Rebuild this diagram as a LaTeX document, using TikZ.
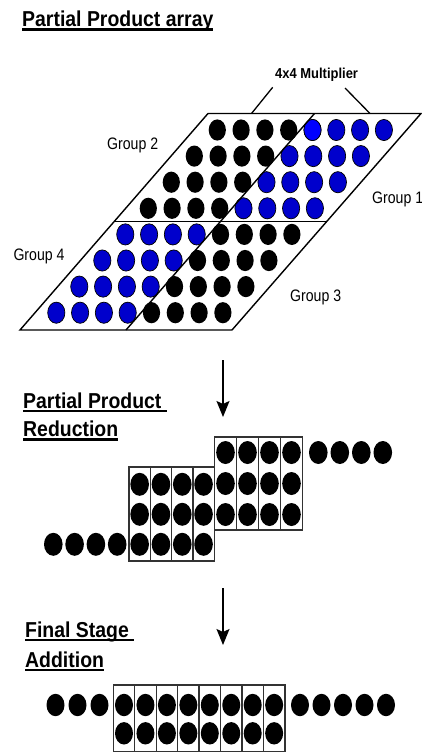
\documentclass[tikz,border=0pt]{standalone}
\usepackage{fontspec}
\setmainfont{Liberation Sans}[FakeStretch=0.9]
\newfontfamily\grpfont{Liberation Sans}[FakeStretch=0.85]
\usetikzlibrary{arrows.meta}

\definecolor{dotblue}{RGB}{0,0,204}
\definecolor{dotbright}{RGB}{0,0,255}
\definecolor{boxgray}{RGB}{51,51,51}

% heading text with a heavy underline that runs through the descenders
\newcommand\ulined[1]{\setbox0=\hbox{#1}\rlap{\rule[-3.8pt]{\wd0}{2.1pt}}\box0}

\begin{document}
\begin{tikzpicture}[x=1pt,y=-1pt,
  heading/.style={anchor=base west,inner sep=0pt,font=\fontsize{21.6}{26}\bfseries\selectfont},
  smallhead/.style={anchor=base west,inner sep=0pt,font=\fontsize{14.4}{17}\bfseries\selectfont},
  grouplabel/.style={anchor=base west,inner sep=0pt,font=\grpfont\fontsize{16.6}{20}\selectfont},
  frame/.style={draw=black,line width=1.4pt},
  bdot/.style={fill=black},
  udot/.style={fill=dotblue,draw=black,line width=0.7pt},
  cell/.style={draw=boxgray,line width=1.3pt},
  flow/.style={draw=black,line width=1.4pt,-{Stealth[length=16pt,width=13pt,inset=3pt]}},
  lead/.style={draw=black,line width=1.3pt},
]
\useasboundingbox (0,0) rectangle (422,753);

% ---------- headings ----------
\node[heading] (hArray) at (22,26.7) {\ulined{Partial Product array}};
\node[heading] (hRed1) at (23,408.3) {\ulined{Partial Product\ }};
\node[heading] (hRed2) at (23,436.7) {\ulined{Reduction}};
\node[heading] (hFin1) at (25,637.5) {\ulined{Final Stage\ }};
\node[heading] (hFin2) at (25,667.3) {\ulined{Addition}};

% ---------- partial product array ----------
\foreach \i in {0,...,7}{
  \foreach \j in {0,...,7}{
    \pgfmathsetmacro\cx{217.3-23*\i+23.8*\j}
    \pgfmathsetmacro\cy{130+26.1*\i}
    \pgfmathtruncatemacro\isblue{ifthenelse(\i<4,\j>3,\j<4)}
    \ifnum\isblue=1
      \path[udot] (\cx,\cy) ellipse [x radius=8.6pt, y radius=10.6pt];
    \else
      \path[bdot] (\cx,\cy) ellipse [x radius=8.6pt, y radius=10.6pt];
    \fi
  }
}
% highlighted dot of group 1
\path[udot,fill=dotbright] (312.5,130) ellipse [x radius=8.6pt, y radius=10.6pt];

\coordinate (pTL) at (208,113.5);
\coordinate (pTR) at (421,113.5);
\coordinate (pBR) at (232,330);
\coordinate (pBL) at (20,330);
\coordinate (pML) at (114,221.75);
\coordinate (pMR) at (326.5,221.75);
\coordinate (pTM) at (314.5,113.5);
\coordinate (pBM) at (126,330);
\draw[frame] (pTL) -- (pTR) -- (pBR) -- (pBL) -- cycle;
\draw[frame] (pML) -- (pMR);
\draw[frame] (pTM) -- (pBM);

\node[grouplabel] (g2) at (107,149) {Group 2};
\node[grouplabel] (g1) at (372,203.3) {Group 1};
\node[grouplabel] (g4) at (13.3,260) {Group 4};
\node[grouplabel] (g3) at (290,301.3) {Group 3};

\node[smallhead] (mult) at (275,78.3) {4x4 Multiplier};
\coordinate (l1a) at (272.7,87.3);
\coordinate (l1b) at (251.5,113.5);
\coordinate (l2a) at (345,88);
\coordinate (l2b) at (370,113.5);
\draw[lead] (l1a) -- (l1b);
\draw[lead] (l2a) -- (l2b);

% ---------- arrows between stages ----------
\coordinate (a1s) at (223,360);
\coordinate (a1e) at (223,417);
\draw[flow] (a1s) -- (a1e);
\coordinate (a2s) at (223,588);
\coordinate (a2e) at (223,645);
\draw[flow] (a2s) -- (a2e);

% ---------- partial product reduction ----------
% upper block
\foreach \j in {0,...,3}{
  \draw[cell] (214.5+22*\j,437) rectangle (236.5+22*\j,530);
  \foreach \r in {452.5,483.5,514.5}
    \path[bdot] (225.5+22*\j,\r) ellipse [x radius=9.3pt, y radius=11.5pt];
}
\foreach \k in {0,...,3}
  \path[bdot] (318.3+21.5*\k,452.5) ellipse [x radius=9.3pt, y radius=11.5pt];
% lower block
\foreach \j in {0,...,3}{
  \draw[cell] (129+21.3*\j,467) rectangle (150.3+21.3*\j,561);
  \foreach \r in {484.3,514.3,544.3}
    \path[bdot] (139.65+21.3*\j,\r) ellipse [x radius=9.3pt, y radius=11.5pt];
}
\foreach \k in {0,...,3}
  \path[bdot] (53.3+21.3*\k,544.3) ellipse [x radius=9.3pt, y radius=11.5pt];

% ---------- final stage addition ----------
\foreach \j in {0,...,7}{
  \draw[cell] (113.3+21.45*\j,685) rectangle (134.75+21.45*\j,751.5);
  \foreach \r in {705,733.3}
    \path[bdot] (124.0+21.45*\j,\r) ellipse [x radius=9pt, y radius=11.2pt];
}
\foreach \x in {55.5,77.5,99.5,300,321.5,343,364.5,386}
  \path[bdot] (\x,705) ellipse [x radius=9pt, y radius=11.2pt];

\end{tikzpicture}
\end{document}
